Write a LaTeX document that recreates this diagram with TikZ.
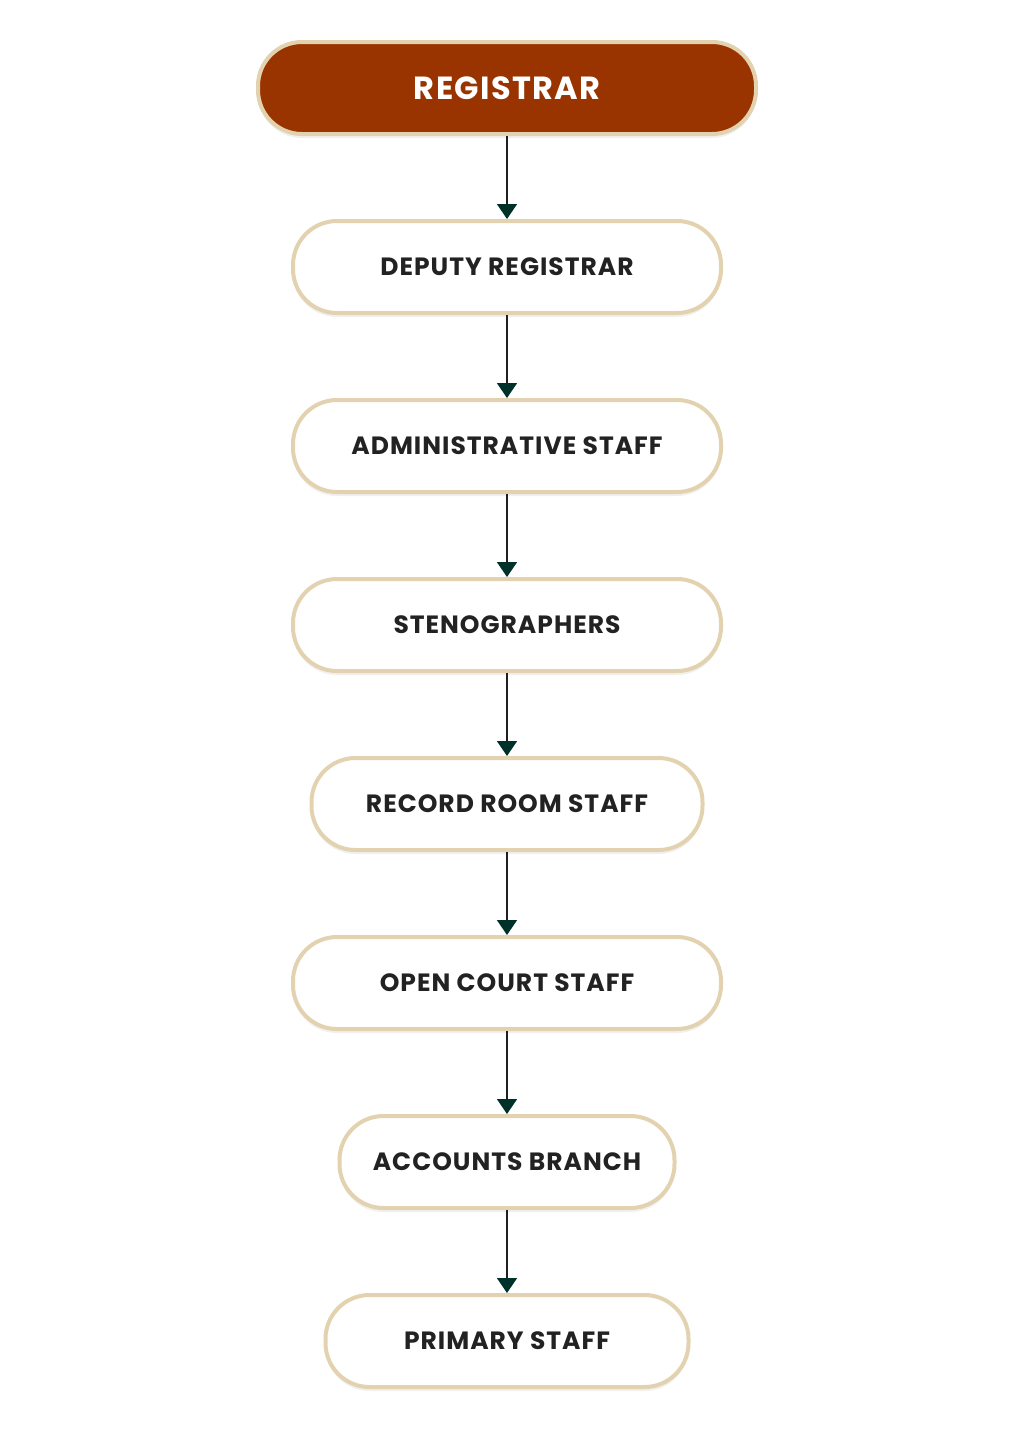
\documentclass[tikz,border=0pt]{standalone}
\usepackage{fontspec}
\setmainfont{Poppins}[LetterSpace=4]
\usetikzlibrary{positioning,arrows.meta,shadows}

\definecolor{rustred}{HTML}{993300}
\definecolor{sandline}{HTML}{E3D2AF}
\definecolor{darkteal}{HTML}{00302A}
\definecolor{inktext}{HTML}{222222}

\tikzset{
  staffbox/.style={draw=sandline, line width=4pt, fill=white, rounded corners=44pt,
    minimum height=92pt, inner sep=0pt, text=inktext,
    font=\fontsize{25}{30}\selectfont\bfseries,
    drop shadow={shadow xshift=0pt, shadow yshift=-4pt, opacity=0.06, fill=black}},
  headbox/.style={staffbox, fill=rustred, text=white, font=\fontsize{32}{38}\selectfont\bfseries},
  linkarrow/.style={line width=1.6pt, draw=black!88,
    -{Triangle[width=20pt,length=15pt,color=darkteal]}}
}

\begin{document}
\begin{tikzpicture}[x=1pt,y=1pt,node distance=83pt]
\useasboundingbox (0,0) rectangle (1013,-1451);

\node[headbox, minimum width=498pt] (registrar) at (507,-88) {REGISTRAR};
\node[staffbox, minimum width=428pt, below=of registrar] (deputy) {DEPUTY REGISTRAR};
\node[staffbox, minimum width=428pt, below=of deputy] (admin) {ADMINISTRATIVE STAFF};
\node[staffbox, minimum width=428pt, below=of admin] (steno) {STENOGRAPHERS};
\node[staffbox, minimum width=391pt, below=of steno] (record) {RECORD ROOM STAFF};
\node[staffbox, minimum width=428pt, below=of record] (court) {OPEN COURT STAFF};
\node[staffbox, minimum width=335pt, below=of court] (accounts) {ACCOUNTS BRANCH};
\node[staffbox, minimum width=363pt, below=of accounts] (primary) {PRIMARY STAFF};

\foreach \a/\b in {registrar/deputy, deputy/admin, admin/steno, steno/record,
                   record/court, court/accounts, accounts/primary}
  \draw[linkarrow] (\a) -- (\b);

\end{tikzpicture}
\end{document}
